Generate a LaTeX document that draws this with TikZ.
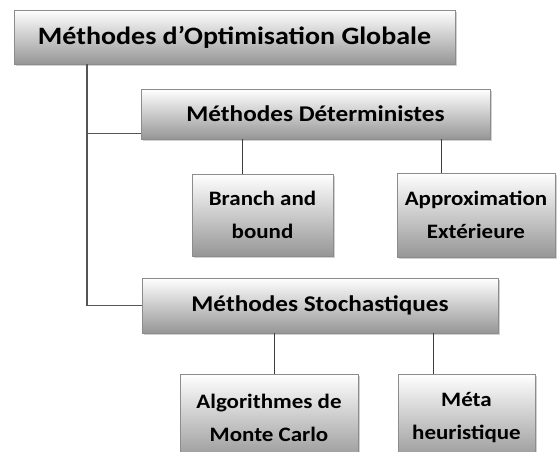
\documentclass[tikz,border=0pt]{standalone}
\usepackage{fontspec}
\setmainfont{Carlito}[FakeStretch=1.12]
\usetikzlibrary{shadows,calc}
\begin{document}
\begin{tikzpicture}[x=1pt,y=-1pt,
  box/.style={draw={rgb,255:red,140;green,140;blue,140}, line width=0.8pt,
    top color=white, bottom color={rgb,255:red,150;green,150;blue,150},
    drop shadow={shadow xshift=2pt, shadow yshift=-2pt, fill=gray!60, opacity=.6},
    inner sep=0pt, align=center, text=black, font=\bfseries},
  titlebox/.style={box, font=\bfseries\fontsize{25}{30}\selectfont},
  midbox/.style={box, font=\bfseries\fontsize{22.5}{26}\selectfont},
  leafbox/.style={box, font=\bfseries\fontsize{20.5}{33}\selectfont},
  trunkline/.style={draw={rgb,255:red,85;green,85;blue,85}, line width=1.3pt},
  link/.style={draw={rgb,255:red,60;green,60;blue,60}, line width=1pt}]
\useasboundingbox (0,0) rectangle (557,452);
\begin{scope}
\clip (0,0) rectangle (557,452);
\node[titlebox, minimum width=441pt, minimum height=54pt] (top) at (234.5,37) {Méthodes d’Optimisation Globale};
\node[midbox, minimum width=349pt, minimum height=50pt] (det) at (315.5,114) {Méthodes Déterministes};
\node[leafbox, minimum width=141pt, minimum height=82pt] (bb) at (262.5,215) {Branch and\\bound};
\node[leafbox, minimum width=158pt, minimum height=84pt] (ap) at (476,215) {Approximation\\Extérieure};
\node[midbox, minimum width=356pt, minimum height=55pt] (sto) at (320,305.5) {Méthodes Stochastiques};
\node[leafbox, minimum width=178pt, minimum height=88pt] (mc) at (269,418) {Algorithmes de\\Monte Carlo};
\node[leafbox, minimum width=137pt, minimum height=88pt] (me) at (466.5,418) {Méta\\heuristique};
\end{scope}
\coordinate (tr) at (87,0);
\coordinate (dj) at ($(det.south west)+(0,-6)$);
\path[trunkline] (top.south -| tr) -- (tr |- sto.west) -- (sto.west);
\path[trunkline] (tr |- dj) -- (dj);
\path[link] ([xshift=-20.5pt]bb.north) -- ([xshift=-20.5pt]bb.north |- det.south);
\path[link] ([xshift=-35pt]ap.north) -- ([xshift=-35pt]ap.north |- det.south);
\path[link] ([xshift=5pt]mc.north) -- ([xshift=5pt]mc.north |- sto.south);
\path[link] ([xshift=-33.5pt]me.north) -- ([xshift=-33.5pt]me.north |- sto.south);
\end{tikzpicture}
\end{document}
